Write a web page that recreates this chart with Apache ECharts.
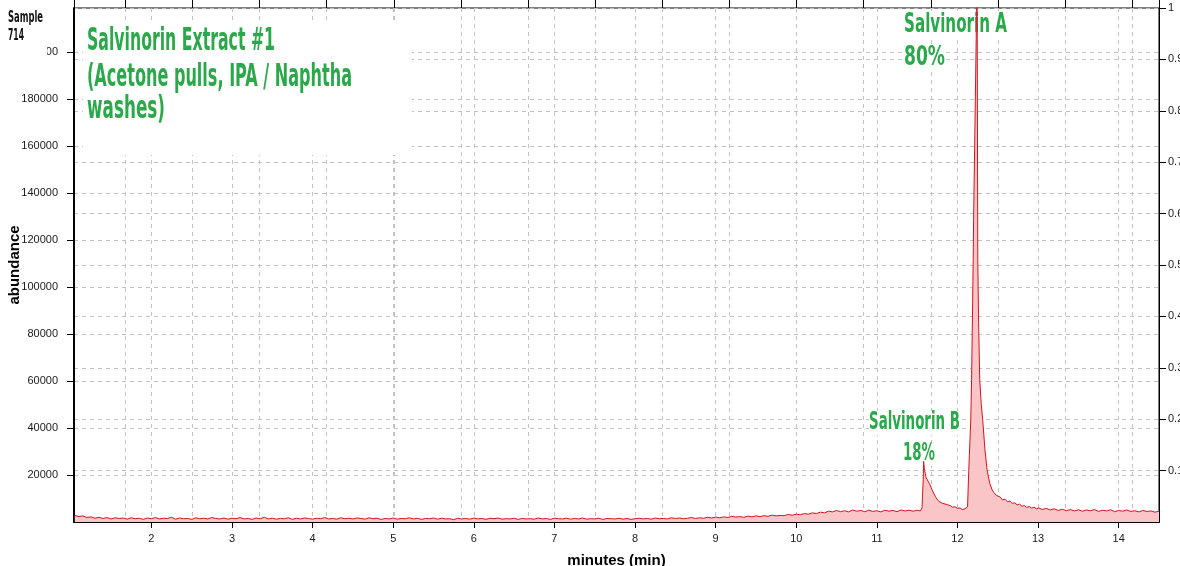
<!DOCTYPE html>
<html>
<head>
<meta charset="utf-8">
<title>Salvinorin Extract #1</title>
<script src="https://cdn.jsdelivr.net/npm/echarts@6/dist/echarts.min.js"></script>
<style>
  html, body { margin: 0; padding: 0; background: #fff; }
  #chromChart { width: 1180px; height: 566px; }
</style>
</head>
<body>
<div id="chromChart"></div>
<script>
// [minutes, abundance]
const baselineEarly = [
  [1.05,2800],[1.10,2300],[1.15,2600],[1.20,1900],[1.25,2200],[1.30,1600],[1.35,2000],[1.40,1500],[1.45,1900],[1.50,1300],
  [1.55,1800],[1.60,1500],[1.65,1700],[1.70,1200],[1.75,1800],[1.80,1400],[1.85,1600],[1.90,1100],[1.95,1700],[2.00,1400],
  [2.05,1900],[2.10,1300],[2.15,1600],[2.20,1500],[2.25,2000],[2.30,1200],[2.35,1700],[2.40,1400],[2.45,1500],[2.50,1100],
  [2.55,1800],[2.60,1400],[2.65,1600],[2.70,1300],[2.75,1900],[2.80,1500],[2.85,1300],[2.90,1700],[2.95,1200],[3.00,1600],
  [3.05,1400],[3.10,1900],[3.15,1300],[3.20,1500],[3.25,1100],[3.30,1700],[3.35,1400],[3.40,2000],[3.45,1300],[3.50,1600],
  [3.55,1200],[3.60,1500],[3.65,1400],[3.70,1800],[3.75,1100],[3.80,1600],[3.85,1300],[3.90,1700],[3.95,1500],[4.00,1200],
  [4.05,1600],[4.10,1400],[4.15,1900],[4.20,1300],[4.25,1500],[4.30,1200],[4.35,1800],[4.40,1400],[4.45,1600],[4.50,1300],
  [4.55,1700],[4.60,1500],[4.65,1200],[4.70,1800],[4.75,1400],[4.80,1600],[4.85,1100],[4.90,1500],[4.95,1300],[5.00,1700],
  [5.05,1200],[5.10,1500],[5.15,1400],[5.20,1800],[5.25,1300],[5.30,1600],[5.35,1100],[5.40,1500],[5.45,1400],[5.50,1700],
  [5.55,1200],[5.60,1600],[5.65,1300],[5.70,1400],[5.75,1000],[5.80,1600],[5.85,1300],[5.90,1500],[5.95,1200],[6.00,1700],
  [6.05,1300],[6.10,1500],[6.15,1100],[6.20,1600],[6.25,1400],[6.30,1700],[6.35,1200],[6.40,1400],[6.45,1300],[6.50,1600],
  [6.55,1100],[6.60,1500],[6.65,1300],[6.70,1400],[6.75,1200],[6.80,1700],[6.85,1300],[6.90,1500],[6.95,1100],[7.00,1600],
  [7.05,1400],[7.10,1300],[7.15,1600],[7.20,1200],[7.25,1500],[7.30,1300],[7.35,1700],[7.40,1200],[7.45,1400],[7.50,1300],
  [7.55,1600],[7.60,1100],[7.65,1500],[7.70,1400],[7.75,1300],[7.80,1600],[7.85,1200],[7.90,1500],[7.95,1100],[8.00,1400],
  [8.05,1600],[8.10,1300],[8.15,1500],[8.20,1200],[8.25,1700],[8.30,1400],[8.35,1500],[8.40,1300],[8.45,1800],[8.50,1500],
  [8.55,1700],[8.60,1400],[8.65,1600],[8.70,1900],[8.75,1500],[8.80,1800],[8.85,1600],[8.90,2000],[8.95,1700],[9.00,2100]
]
const baselineRise = [
  [9.05,1800],[9.10,2200],[9.15,1900],[9.20,2400],[9.25,2100],[9.30,2300],[9.35,2000],[9.40,2500],[9.45,2200],[9.50,2600],
  [9.55,2300],[9.60,2700],[9.65,2400],[9.70,2900],[9.75,2600],[9.80,2800],[9.85,2700],[9.90,3200],[9.95,2900],[10.00,3300],
  [10.05,3100],[10.10,3600],[10.15,3300],[10.20,3900],[10.25,3600],[10.30,4200],[10.35,3900],[10.40,4600],[10.45,4300],[10.50,4900],
  [10.55,4400],[10.60,4800],[10.65,4300],[10.70,5100],[10.75,4600],[10.80,4900],[10.85,4400],[10.90,5000],[10.95,4500],[11.00,4800],
  [11.05,4300],[11.10,5000],[11.15,4600],[11.20,4900],[11.25,4400],[11.30,5100],[11.35,4700],[11.40,5000],[11.45,4600],[11.50,5000]
]
const peakB = [
  [11.54,4700],[11.56,6000],[11.575,18000],[11.58,25800],[11.59,22000],[11.60,20800],[11.61,19000],[11.625,18000],
  [11.64,17300],[11.66,15800],[11.685,13700],[11.705,12200],[11.725,10900],[11.745,9800],[11.77,8800],[11.79,8300],
  [11.81,8000],[11.83,7300],[11.86,7500],[11.88,6900],[11.91,7000],[11.94,6300],[11.97,6500],[12.00,5800],
  [12.03,6000],[12.06,5300],[12.09,5600],[12.11,5800],[12.125,6400]
]
const peakA = [
  [12.14,22000],[12.165,43500],[12.175,60600],[12.195,111600],[12.20,128600],[12.222,180900],[12.232,205200],
  [12.242,250000],[12.252,111600],[12.262,85000],[12.276,60600],[12.295,50000],[12.313,43500],[12.34,31000],
  [12.367,22250],[12.40,16500],[12.43,13700]
]
const tail = [
  [12.45,12600],[12.48,11400],[12.50,11000],[12.53,10600],[12.56,9400],[12.59,9700],[12.62,8600],[12.65,8900],
  [12.68,7900],[12.71,8200],[12.74,7300],[12.77,7600],[12.80,6700],[12.83,7000],[12.86,6200],[12.89,6600],
  [12.92,5900],[12.95,6300],[12.98,5600],[13.01,6000],[13.05,5300],[13.10,5800],[13.15,5100],[13.20,5600],
  [13.25,4900],[13.30,5400],[13.35,4800],[13.40,5300],[13.45,4700],[13.50,5200],[13.55,4600],[13.60,5100],
  [13.65,4800],[13.70,5300],[13.75,4500],[13.80,5000],[13.85,4700],[13.90,5200],[13.95,4400],[14.00,4900],
  [14.05,4600],[14.10,5100],[14.15,4500],[14.20,4800],[14.25,4300],[14.30,4900],[14.35,4500],[14.40,4700],
  [14.45,4200],[14.50,4600]
]

const titleLines = ['Salvinorin Extract #1', '(Acetone pulls, IPA / Naphtha', 'washes)']
const sampleLines = ['Sample', '714']
const peakLabels = ['Salvinorin A', '80%', 'Salvinorin B', '18%']

let chartInstance = echarts.init(document.getElementById('chromChart'))
const trace = [].concat(baselineEarly, baselineRise, peakB, peakA, tail)

const green = '#2ba84a'
const condensed = '"DejaVu Sans Condensed", "DejaVu Sans", sans-serif'
const measureCtx = document.createElement('canvas').getContext('2d')

// squeeze text horizontally to look like the narrow headline face
function label(text, left, baseline, size, color, width, boxed) {
  const font = 'bold ' + size + 'px ' + condensed
  measureCtx.font = font
  const w = measureCtx.measureText(text).width
  return {
    type: 'text',
    z: 1,
    x: left,
    y: baseline - size * 0.33,
    scaleX: width / w,
    style: {
      text: text,
      x: 0,
      y: 0,
      font: font,
      fill: color,
      textVerticalAlign: 'middle',
      backgroundColor: boxed ? '#fff' : null
    }
  }
}

const gridLine = { show: true, lineStyle: { color: '#c2c2c2', type: [4, 4], width: 1 } }
const tickFont = {
  color: '#1a1a1a', fontSize: 11, fontFamily: 'Liberation Sans',
  formatter: function (v) { return String(v) }
}

const option = {
  backgroundColor: '#ffffff',
  animation: false,
  grid: {
    left: 74, right: 21, top: 8, bottom: 44,
    show: true, borderColor: '#000', borderWidth: 1,
    containLabel: false, outerBoundsMode: 'none'
  },
  xAxis: [
    {
      type: 'value',
      position: 'bottom',
      min: 1.04,
      max: 14.5,
      splitNumber: 13,
      name: 'minutes (min)',
      nameLocation: 'middle',
      nameGap: 31,
      nameMoveOverlap: false,
      nameTextStyle: { color: '#000', fontSize: 15, fontWeight: 'bold', fontFamily: 'Liberation Sans' },
      axisLine: { show: true, onZero: false, lineStyle: { color: '#000', width: 2 } },
      axisTick: { show: true, length: 6, lineStyle: { color: '#000' } },
      axisLabel: Object.assign({ margin: 11, showMinLabel: false, showMaxLabel: false }, tickFont),
      splitLine: gridLine
    },
    {
      type: 'value',
      position: 'top',
      min: -0.764,
      max: 15.4,
      splitNumber: 16,
      axisLine: { show: false, onZero: false },
      axisTick: { show: true, length: 8, lineStyle: { color: '#000' } },
      axisLabel: { show: false },
      splitLine: gridLine
    }
  ],
  yAxis: [
    {
      type: 'value',
      position: 'left',
      min: 0,
      max: 218700,
      interval: 20000,
      name: 'abundance',
      nameLocation: 'middle',
      nameGap: 52,
      nameMoveOverlap: false,
      nameTextStyle: { color: '#000', fontSize: 15, fontWeight: 'bold', fontFamily: 'Liberation Sans' },
      axisLine: { show: true, onZero: false, lineStyle: { color: '#000', width: 2 } },
      axisTick: { show: true, length: 7, lineStyle: { color: '#000' } },
      axisLabel: Object.assign({ margin: 16, showMinLabel: false, showMaxLabel: false }, tickFont),
      splitLine: gridLine
    },
    {
      type: 'value',
      position: 'right',
      min: 0,
      max: 1,
      interval: 0.1,
      axisLine: { show: true, onZero: false, lineStyle: { color: '#000', width: 1 } },
      axisTick: { show: true, length: 7, lineStyle: { color: '#000' } },
      axisLabel: Object.assign({ margin: 9, showMinLabel: false }, tickFont),
      splitLine: gridLine
    }
  ],
  graphic: [
    { type: 'rect', z: 1, shape: { x: 83, y: 20, width: 329, height: 135 }, style: { fill: '#fff' } },
    { type: 'rect', z: 1, shape: { x: 0, y: 0, width: 47, height: 60 }, style: { fill: '#fff' } },
    label(sampleLines[0], 8, 23, 16, '#111', 35),
    label(sampleLines[1], 8, 41.5, 16, '#111', 16),
    label(titleLines[0], 87, 52, 32, green, 188),
    label(titleLines[1], 87, 88, 32, green, 265),
    label(titleLines[2], 87, 120, 32, green, 78),
    label(peakLabels[0], 904, 33.5, 27, green, 103, true),
    label(peakLabels[1], 904, 66.5, 27, green, 41, true),
    label(peakLabels[2], 869, 431, 24, green, 91, true),
    label(peakLabels[3], 903, 462, 24, green, 32, true)
  ],
  series: [
    {
      name: 'abundance',
      type: 'line',
      xAxisIndex: 0,
      yAxisIndex: 0,
      data: trace,
      symbol: 'none',
      clip: true,
      z: 2,
      lineStyle: { color: '#d2141e', width: 1 },
      areaStyle: { color: '#f9c5c7', opacity: 1 }
    }
  ]
}
chartInstance.setOption(option)
window.onresize = function () {
  chartInstance.resize()
}
</script>
</body>
</html>
